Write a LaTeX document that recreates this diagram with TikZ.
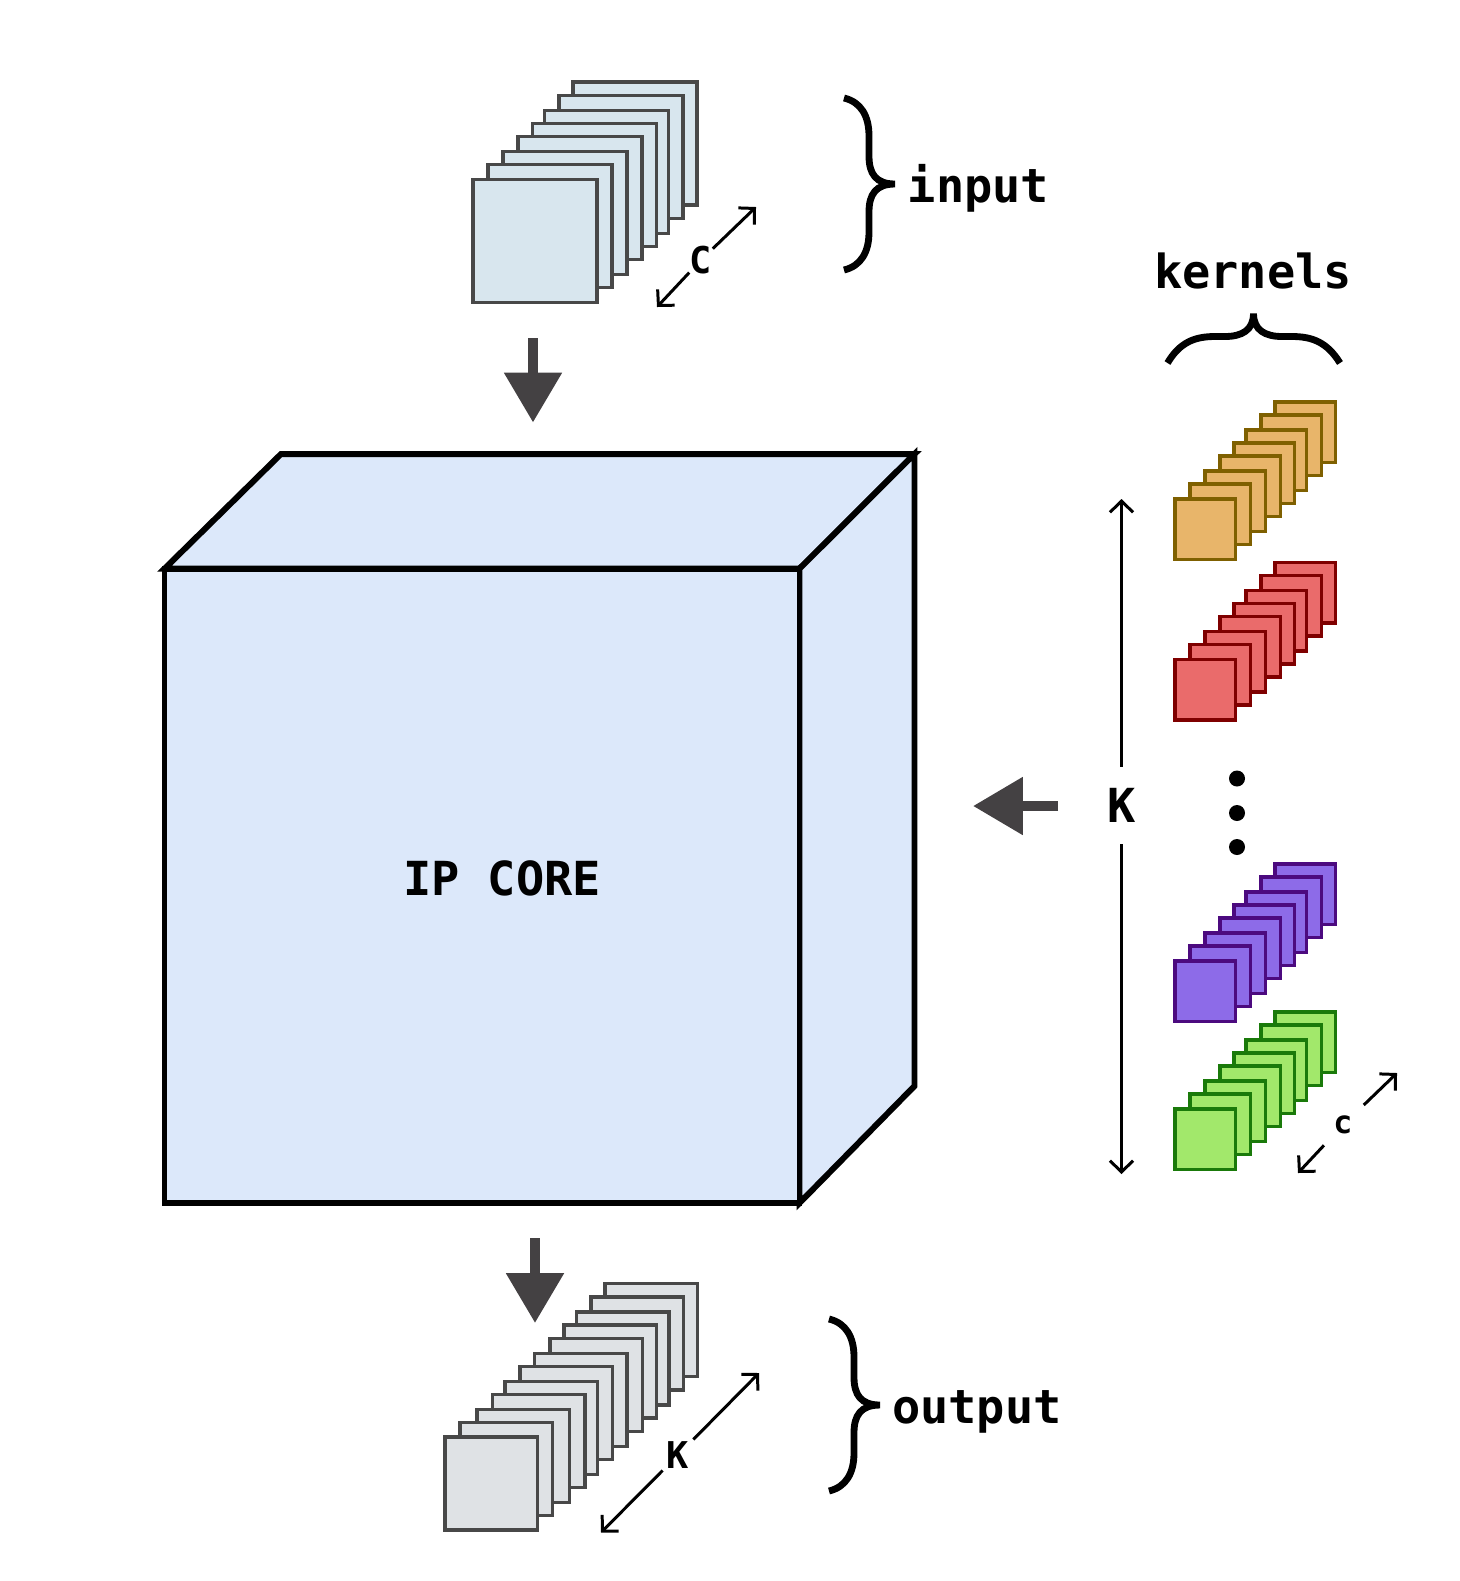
\documentclass[tikz,border=0pt]{standalone}
\usepackage{fontspec}
\setmonofont{DejaVu Sans Mono}
\usepackage{xcolor}
\usetikzlibrary{arrows.meta, positioning}
\definecolor{coreblue}{HTML}{DCE8FA}
\definecolor{inputfill}{HTML}{D8E6EE}
\definecolor{outputfill}{HTML}{DFE2E5}
\definecolor{stackline}{HTML}{484848}
\definecolor{flowgray}{HTML}{444143}
\definecolor{orangefill}{HTML}{E8B56A}
\definecolor{orangeline}{HTML}{7F6000}
\definecolor{redfill}{HTML}{EA6B6B}
\definecolor{redline}{HTML}{7F0000}
\definecolor{purplefill}{HTML}{8D6BE8}
\definecolor{purpleline}{HTML}{4C0A7F}
\definecolor{greenfill}{HTML}{A2E86B}
\definecolor{greenline}{HTML}{1A7A0A}
\tikzset{
    bigflow/.style={flowgray, line width=2.9pt, -{Triangle[length=14.2pt, width=15.8pt]}},
    dimarrow/.style={line width=0.85pt, -{Straight Barb[length=3.2pt, width=6.6pt]}},
    curly/.style={line width=1.95pt, line cap=butt},
    label/.style={font=\ttfamily\bfseries\fontsize{13.35}{15}\selectfont, inner sep=0pt},
    smalllabel/.style={font=\ttfamily\bfseries\fontsize{10.5}{12}\selectfont, inner sep=0pt},
    rbrace/.pic={
        \draw[curly] (0,0) .. controls (0.17,0.04) and (0.25,0.18) .. (0.25,0.38)
            -- (0.25,0.58) .. controls (0.25,0.76) and (0.32,0.86) .. (0.51,0.86)
            .. controls (0.32,0.86) and (0.25,0.96) .. (0.25,1.14)
            -- (0.25,1.34) .. controls (0.25,1.54) and (0.17,1.68) .. (0,1.72);
    }
}
\begin{document}
\begin{tikzpicture}[x=1cm, y=-1cm]
    \useasboundingbox (0,0) rectangle (14.60,15.81);
    % cube
    \draw[line width=1.7pt, fill=coreblue] (1.645,5.687) -- (2.81,4.54) -- (9.145,4.54) -- (7.995,5.687) -- cycle;
    \draw[line width=1.7pt, fill=coreblue] (7.995,5.687) -- (9.145,4.54) -- (9.145,10.86) -- (7.995,12.03) -- cycle;
    \draw[line width=1.7pt, fill=coreblue] (1.645,5.687) rectangle (7.995,12.03);
    \node[label] (core) at (5.02,8.78) {IP CORE};
    % input stack
    \foreach \dx/\dy in {1.00/0.975, 0.86/0.84, 0.715/0.69, 0.595/0.56, 0.45/0.43, 0.30/0.28, 0.15/0.15, 0/0}
        \draw[line width=1pt, draw=stackline, fill=inputfill, xshift=\dx cm, yshift=\dy cm] (4.73,1.795) rectangle ++(1.24,1.23);
    % output stack
    \foreach \dx/\dy in {1.60/1.537, 1.46/1.40, 1.315/1.25, 1.19/1.12, 1.05/0.987, 0.895/0.837, 0.75/0.707, 0.60/0.557, 0.475/0.427, 0.318/0.277, 0.148/0.147, 0/0}
        \draw[line width=1pt, draw=stackline, fill=outputfill, xshift=\dx cm, yshift=\dy cm] (4.45,14.37) rectangle ++(0.925,0.93);
    % kernel stacks
    \foreach \kfill/\kline/\ypos in {orangefill/orangeline/4.99, redfill/redline/6.595, purplefill/purpleline/9.61, greenfill/greenline/11.09}
        \foreach \dx/\dy in {1.00/0.97, 0.86/0.84, 0.71/0.69, 0.59/0.56, 0.45/0.43, 0.30/0.28, 0.15/0.15, 0/0}
            \draw[line width=1pt, draw=\kline, fill=\kfill, xshift=\dx cm, yshift=\dy cm] (11.75,\ypos) rectangle ++(0.605,0.605);
    % dots
    \foreach \ypos in {7.785,8.13,8.47}
        \fill (12.37,\ypos) circle (0.08);
    % flow arrows
    \coordinate (instart) at (5.33,3.38);
    \coordinate (inend) at (5.33,4.225);
    \coordinate (outstart) at (5.35,12.38);
    \coordinate (outend) at (5.35,13.23);
    \coordinate (kstart) at (10.58,8.06);
    \coordinate (kend) at (9.73,8.06);
    \draw[bigflow] (instart) -- (inend);
    \draw[bigflow] (outstart) -- (outend);
    \draw[bigflow] (kstart) -- (kend);
    % braces
    \pic at (8.44,0.98) {rbrace};
    \pic at (8.29,13.19) {rbrace};
    \draw[curly] (11.675,3.63) .. controls (11.80,3.42) and (11.95,3.365) .. (12.15,3.365)
        -- (12.25,3.365) .. controls (12.42,3.365) and (12.535,3.30) .. (12.535,3.135)
        .. controls (12.535,3.30) and (12.65,3.365) .. (12.82,3.365)
        -- (12.92,3.365) .. controls (13.12,3.365) and (13.27,3.42) .. (13.40,3.63);
    % labels
    \node[label] (inlabel) at (9.785,1.885) {input};
    \node[label] (outlabel) at (9.77,14.115) {output};
    \node[label] (kernlabel) at (12.53,2.71) {kernels};
    % dimensions
    \node[smalllabel] (cin) at (7.01,2.60) {C};
    \coordinate (cina) at (6.57,3.07);
    \coordinate (cinb) at (7.56,2.07);
    \draw[dimarrow] (cin) -- (cina);
    \draw[dimarrow] (cin) -- (cinb);
    \node[label, inner ysep=6pt] (kright) at (11.215,8.055) {K};
    \coordinate (krighta) at (11.215,4.99);
    \coordinate (krightb) at (11.215,11.74);
    \draw[dimarrow] (kright) -- (krighta);
    \draw[dimarrow] (kright) -- (krightb);
    \node[smalllabel, font=\ttfamily\bfseries\fontsize{9}{10}\selectfont, inner sep=3pt] (cker) at (13.43,11.25) {c};
    \coordinate (ckera) at (12.98,11.73);
    \coordinate (ckerb) at (13.97,10.73);
    \draw[dimarrow] (cker) -- (ckera);
    \draw[dimarrow] (cker) -- (ckerb);
    \node[smalllabel, inner sep=1pt] (kout) at (6.78,14.55) {K};
    \coordinate (kouta) at (6.01,15.325);
    \coordinate (koutb) at (7.59,13.73);
    \draw[dimarrow] (kout) -- (kouta);
    \draw[dimarrow] (kout) -- (koutb);
\end{tikzpicture}
\end{document}
